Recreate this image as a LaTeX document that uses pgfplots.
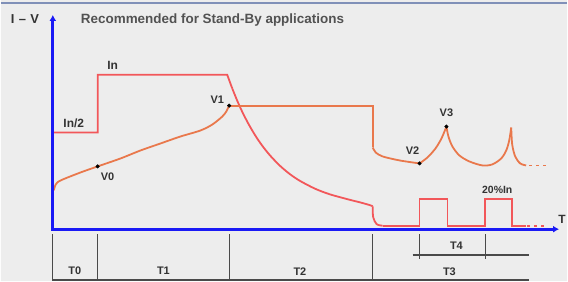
\documentclass[border=0pt]{standalone}
\usepackage{pgfplots}
\pgfplotsset{compat=1.18}
\usepackage{fontspec}
\setmainfont{Liberation Sans}
\usetikzlibrary{arrows.meta}
\definecolor{bg}{HTML}{EDEDED}
\definecolor{cred}{HTML}{F2575A}
\definecolor{corange}{HTML}{E9784C}
\definecolor{cblue}{HTML}{1A1AF5}
\definecolor{cgray}{HTML}{4A4A4A}
\definecolor{ctext}{HTML}{333333}
\definecolor{ctop}{HTML}{8090B8}
\tikzset{lbl/.style={text=ctext, font=\bfseries\fontsize{11}{13}\selectfont, inner sep=0pt}}
\begin{document}
\begin{tikzpicture}
\begin{axis}[
  width=568pt, height=282pt, scale only axis,
  xmin=0, xmax=568, ymin=0, ymax=282, y dir=reverse,
  axis lines=none, clip=false,
]
% background
\addplot[fill=bg, draw=none] coordinates {(0,0)(568,0)(568,282)(0,282)(0,0)};
% top rule
\addplot[ctop, line width=2pt] coordinates {(0,3)(568,3)};
% bottom time structure
\addplot[cgray, line width=1.3pt] coordinates {(52,235)(52,282)};
\addplot[cgray, line width=1.3pt] coordinates {(97,235)(97,282)};
\addplot[cgray, line width=1.3pt] coordinates {(229,235)(229,282)};
\addplot[cgray, line width=1.3pt] coordinates {(373,235)(373,282)};
\addplot[cgray, line width=1.5pt] coordinates {(52,281)(530,281)};
\addplot[cgray, line width=1.3pt] coordinates {(420,235)(420,260)};
\addplot[cgray, line width=1.3pt] coordinates {(486,235)(486,260)};
\addplot[cgray, line width=1.3pt] coordinates {(413,256)(530,256)};
% red current curve
\addplot[cred, line width=1.8pt] coordinates {(52,133)(97,133)(97,75)(227,75)(232,88.6)};
\addplot[cred, line width=1.8pt, smooth, tension=0.5] coordinates {(232,88.6)(237,100.9)(242,112)(248,123.7)(255,135.7)(262,146)(270,156)(280,166.4)(290,174.8)(300,181.5)(315,189.3)(330,195)(350,200.5)(360,203)(370,205.8)(373,207)};
\addplot[cred, line width=1.8pt, smooth] coordinates {(373,207)(373.5,218)(377,225)(383,226.5)};
\addplot[cred, line width=1.8pt] coordinates {(383,226.5)(420,226.5)(420,200)(448,200)(448,226.5)(486,226.5)(486,200)(513,200)(513,226.5)(527,226.5)};
\addplot[cred, line width=1.8pt, dash pattern=on 3pt off 4pt] coordinates {(528,226.5)(546,226.5)};
% orange voltage curve
\addplot[corange, line width=1.8pt, smooth] coordinates {(53,191)(55,185)(60,181)(80,173)(97,167)(120,159)(140,151)(160,144)(180,137)(200,131)(212,125)(222,117)(226,112)(229,106)};
\addplot[corange, line width=1.8pt] coordinates {(229,106)(373,106)(373,148)};
\addplot[corange, line width=1.8pt, smooth] coordinates {(373,148)(376,153)(383,157)(400,161)(420,164)};
\addplot[corange, line width=1.8pt, smooth] coordinates {(420,164)(428,158)(436,149)(442,139)(447,127)};
\addplot[corange, line width=1.8pt, smooth] coordinates {(447,127)(449,137)(453,147)(460,156)(470,162)(483,166)(493,165)(502,159)(507,151)(510,141)(512,128)};
\addplot[corange, line width=1.8pt, smooth] coordinates {(512,128)(513,145)(516,157)(521,164)(527,166)};
\addplot[corange, line width=1.8pt, dash pattern=on 3pt off 4pt] coordinates {(530,166)(548,166)};
% blue axes
\addplot[cblue, line width=3pt, -{Latex[length=6pt,width=7pt]}] coordinates {(52,231.5)(52,15)};
\addplot[cblue, line width=3pt, -{Latex[length=6pt,width=7pt]}] coordinates {(50.5,230)(560,230)};
% points
\addplot[only marks, mark=*, mark size=1.8pt, black] coordinates {(97,167)(229,106)(420,164)(447,127)};
% labels
\node[lbl, font=\bfseries\fontsize{13}{15}\selectfont] at (axis cs:24,19) {I\,\,–\,\,V};
\node[lbl, anchor=west, text=ctext!85, font=\bfseries\fontsize{13.5}{15}\selectfont] at (axis cs:80,20) {Recommended for Stand-By applications};
\node[lbl, font=\bfseries\fontsize{12}{14}\selectfont] at (axis cs:112,66) {In};
\node[lbl, font=\bfseries\fontsize{12}{14}\selectfont] at (axis cs:73,124) {In/2};
\node[lbl] at (axis cs:107,177) {V0};
\node[lbl] at (axis cs:217,100) {V1};
\node[lbl] at (axis cs:413,151) {V2};
\node[lbl] at (axis cs:447,113) {V3};
\node[lbl, font=\bfseries\fontsize{10.5}{12}\selectfont] at (axis cs:498,191) {20\%In};
\node[lbl, font=\bfseries\fontsize{12}{14}\selectfont] at (axis cs:563,220) {T};
\node[lbl] at (axis cs:74,272) {T0};
\node[lbl] at (axis cs:163,272) {T1};
\node[lbl] at (axis cs:300,273) {T2};
\node[lbl] at (axis cs:450,273) {T3};
\node[lbl] at (axis cs:457,247) {T4};
\end{axis}
\end{tikzpicture}
\end{document}
